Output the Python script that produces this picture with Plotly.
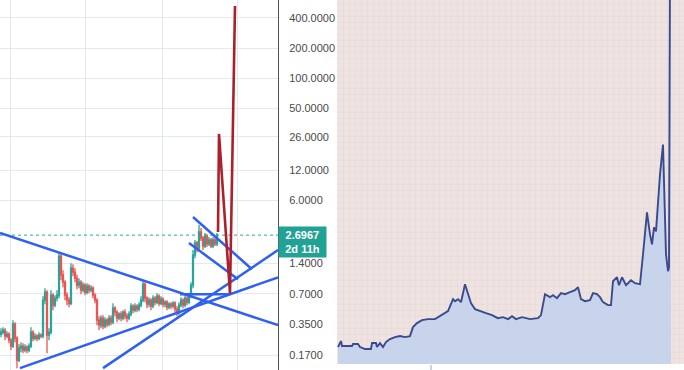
import math
import plotly.graph_objects as go

# ---------------- Left panel: candles (log price) ----------------
candle_idx = list(range(109))
opens = [0.275,0.288,0.302,0.263,0.275,0.240,0.209,0.347,0.251,0.151,
         0.200,0.209,0.191,0.204,0.191,0.209,0.288,0.251,0.263,0.251,
         0.269,0.263,0.603,0.724,0.269,0.288,0.676,0.537,0.631,0.676,
         1.66,1.08,0.912,0.676,0.603,0.562,1.26,1.15,1.00,0.851,
         0.912,0.759,0.851,0.724,0.832,0.759,0.794,0.676,0.603,0.380,
         0.339,0.398,0.331,0.380,0.347,0.398,0.363,0.501,0.457,0.398,
         0.437,0.398,0.457,0.417,0.398,0.437,0.525,0.479,0.525,0.490,
         0.537,0.603,0.871,0.631,0.550,0.603,0.525,0.631,0.575,0.661,
         0.562,0.617,0.550,0.575,0.513,0.550,0.525,0.562,0.490,0.447,
         0.537,0.603,0.537,0.631,0.575,0.661,0.851,1.70,2.25,2.00,
         2.90,2.52,2.10,2.64,2.20,2.41,2.10,2.41,2.20]
closes = [0.288,0.302,0.263,0.275,0.240,0.209,0.347,0.251,0.151,0.200,
          0.209,0.191,0.204,0.191,0.209,0.288,0.251,0.263,0.251,0.269,
          0.263,0.603,0.724,0.269,0.288,0.676,0.537,0.631,0.676,1.66,
          1.08,0.912,0.676,0.603,0.562,1.26,1.15,1.00,0.851,0.912,
          0.759,0.851,0.724,0.832,0.759,0.794,0.676,0.603,0.380,0.339,
          0.398,0.331,0.380,0.347,0.398,0.363,0.501,0.457,0.398,0.437,
          0.398,0.457,0.417,0.398,0.437,0.525,0.479,0.525,0.490,0.537,
          0.603,0.871,0.631,0.550,0.603,0.525,0.631,0.575,0.661,0.562,
          0.617,0.550,0.575,0.513,0.550,0.525,0.562,0.490,0.447,0.537,
          0.603,0.537,0.631,0.575,0.661,0.851,1.70,2.25,2.00,2.90,
          2.52,2.10,2.64,2.20,2.41,2.10,2.41,2.20,2.6967]
highs = [0.316,0.324,0.316,0.295,0.288,0.251,0.380,0.363,0.263,0.219,
         0.229,0.224,0.219,0.214,0.224,0.324,0.302,0.282,0.275,0.288,
         0.282,0.661,0.794,0.759,0.316,0.759,0.708,0.676,0.759,1.82,
         1.74,1.20,0.955,0.724,0.646,1.41,1.38,1.26,1.08,1.00,
         0.955,0.912,0.891,0.891,0.871,0.851,0.832,0.708,0.631,0.417,
         0.427,0.427,0.407,0.398,0.427,0.427,0.562,0.525,0.479,0.457,
         0.468,0.479,0.490,0.447,0.468,0.562,0.550,0.562,0.550,0.575,
         0.661,0.955,0.912,0.661,0.646,0.631,0.676,0.661,0.708,0.692,
         0.661,0.646,0.603,0.603,0.575,0.575,0.589,0.589,0.525,0.575,
         0.646,0.631,0.676,0.661,0.708,0.912,1.91,2.41,2.35,3.40,
         3.18,2.64,2.83,2.76,2.58,2.52,2.58,2.52,2.83]
lows = [0.257,0.275,0.240,0.251,0.224,0.191,0.200,0.229,0.126,0.145,
        0.182,0.178,0.182,0.178,0.182,0.200,0.234,0.240,0.234,0.240,
        0.251,0.251,0.550,0.178,0.240,0.275,0.479,0.513,0.589,0.631,
        0.955,0.813,0.603,0.537,0.513,0.537,1.05,0.912,0.776,0.794,
        0.692,0.724,0.676,0.692,0.708,0.724,0.631,0.562,0.339,0.302,
        0.316,0.309,0.316,0.324,0.331,0.339,0.347,0.417,0.363,0.380,
        0.372,0.380,0.389,0.363,0.380,0.417,0.447,0.457,0.457,0.468,
        0.513,0.575,0.575,0.501,0.513,0.479,0.501,0.537,0.550,0.525,
        0.537,0.513,0.513,0.479,0.490,0.490,0.501,0.457,0.417,0.427,
        0.513,0.501,0.513,0.537,0.550,0.631,0.794,1.58,1.82,1.91,
        2.35,1.91,2.00,2.05,2.10,2.00,2.00,2.10,2.10]
assert len(opens) == len(closes) == len(highs) == len(lows) == len(candle_idx)

last_price = 2.6967
last_label = "2.6967<br>2d 11h"

# trendlines: (bar index, price) pairs
trend_desc_x = [-0.5, 138.5];  trend_desc_y = [2.83, 0.339]
trend_low_x = [9.5, 138.5];    trend_low_y = [0.126, 1.02]
trend_steep_x = [51, 138.5];   trend_steep_y = [0.126, 1.91]
chan_up_x = [96, 125.5];       chan_up_y = [4.09, 1.23]
chan_dn_x = [94, 118.5];       chan_dn_y = [2.25, 0.977]
hline_x = [89.5, 114.5];       hline_y = [0.692, 0.692]
proj_x = [108.5, 109, 114.5, 117]
proj_y = [2.90, 27.7, 0.708, 527]

price_ticks = [0.17, 0.35, 0.7, 1.4, 6, 12, 26, 50, 100, 200, 400]
price_tick_text = ["0.1700", "0.3500", "0.7000", "1.4000", "6.0000", "12.0000",
                   "26.0000", "50.0000", "100.0000", "200.0000", "400.0000"]
left_grid_x = [4.5, 42, 80.5, 118]

# ---------------- Right panel: area chart ----------------
area_t = [1,4,5,15,16,21,23,28,34,35,39,40,43,46,49,53,58,63,68,73,
          76,80,85,91,98,105,111,116,118,121,124,128,131,134,138,143,149,155,161,166,
          171,175,179,185,193,201,204,208,213,216,220,224,228,233,238,241,244,248,253,256,
          260,263,266,271,274,276,280,282,285,289,294,298,303,306,310,313,315,317,319,323,
          326,329,331,332,333,334]
area_v = [17,23,18,18,20,20,17,15,15,21,21,17,21,17,22,25,27,28,27,28,
          37,41,44,45,45,49,53,65,63,65,62,80,70,61,55,53,51,49,46,47,
          45,48,45,47,45,46,49,70,67,69,66,71,70,72,74,77,65,63,64,71,
          70,67,62,59,59,83,87,79,87,79,84,81,80,110,152,130,120,137,133,190,
          220,110,93,97,400,400]
assert len(area_t) == len(area_v)

W, H = 684, 370
BLUE = "#2f60f2"
fig = go.Figure()

fig.add_trace(go.Candlestick(
    x=candle_idx, open=opens, high=highs, low=lows, close=closes,
    increasing=dict(line=dict(color="#26a69a", width=1.3), fillcolor="#26a69a"),
    decreasing=dict(line=dict(color="#ef5350", width=1.3), fillcolor="#ef5350"),
    whiskerwidth=0, xaxis="x", yaxis="y", showlegend=False, hoverinfo="skip"))

fig.add_trace(go.Scatter(x=[-0.5, 138.5], y=[last_price, last_price], mode="lines",
                         line=dict(color="#26a69a", width=1, dash="dot"),
                         xaxis="x", yaxis="y", showlegend=False, hoverinfo="skip"))

for tx, ty in [(trend_desc_x, trend_desc_y), (trend_low_x, trend_low_y),
               (trend_steep_x, trend_steep_y), (chan_up_x, chan_up_y),
               (chan_dn_x, chan_dn_y), (hline_x, hline_y)]:
    fig.add_trace(go.Scatter(x=tx, y=ty, mode="lines", line=dict(color=BLUE, width=2.5),
                             xaxis="x", yaxis="y", showlegend=False, hoverinfo="skip"))

fig.add_trace(go.Scatter(x=proj_x, y=proj_y, mode="lines",
                         line=dict(color="#ad2029", width=2.6),
                         xaxis="x", yaxis="y", showlegend=False, hoverinfo="skip"))

fig.add_trace(go.Scatter(x=area_t, y=area_v, mode="lines", fill="tozeroy",
                         fillcolor="#c7d4ec", line=dict(color="#3b4a8e", width=1.9),
                         xaxis="x2", yaxis="y2", showlegend=False, hoverinfo="skip"))

left_right = 278 / W
fig.update_layout(
    width=W, height=H, margin=dict(l=0, r=0, t=0, b=0),
    paper_bgcolor="white", plot_bgcolor="white", showlegend=False,
    font=dict(family="Arial", size=11, color="#4a4a4a"),
    xaxis=dict(domain=[0, left_right], range=[-0.5, 138.5], showticklabels=False,
               tickvals=left_grid_x, showgrid=True, gridcolor="#e2e9f1", gridwidth=1,
               zeroline=False, rangeslider=dict(visible=False), ticks="", fixedrange=True),
    yaxis=dict(domain=[0, 1], type="log", range=[-0.918, 2.782], side="right",
               tickvals=price_ticks, ticktext=price_tick_text, showgrid=True,
               gridcolor="#e2e9f1", gridwidth=1, zeroline=False, showline=True,
               linecolor="#4f525c", linewidth=1, ticks="", ticklabelstandoff=8,
               tickfont=dict(family="Arial", size=11, color="#4a4a4a")),
    xaxis2=dict(domain=[337 / W, 1], range=[0, 347], anchor="y2",
                tickvals=[94], ticks="outside", ticklen=6, tickwidth=2,
                tickcolor="#c8d3ea", showticklabels=False, showgrid=False,
                zeroline=False, showline=False,
                minor=dict(dtick=6, showgrid=True, gridcolor="rgba(190,160,160,0.07)",
                           ticks="")),
    yaxis2=dict(domain=[6 / H, 1], range=[0, 365], anchor="x2", showticklabels=False,
                showgrid=False, zeroline=False, showline=False,
                minor=dict(dtick=6, showgrid=True, gridcolor="rgba(190,160,160,0.07)",
                           ticks="")),
    shapes=[dict(type="rect", xref="x2 domain", yref="y2 domain", x0=0, x1=1, y0=0, y1=1,
                 fillcolor="#eee3e0", line=dict(width=0), layer="below")],
    annotations=[dict(text="<b>" + last_label.replace("<br>", "</b><br><b>") + "</b>",
                      xref="paper", yref="y", x=left_right, y=math.log10(last_price),
                      xanchor="left", yanchor="top", yshift=9, showarrow=False,
                      align="center", width=41, height=24, borderpad=3,
                      bgcolor="#22a294", font=dict(family="Arial", size=11, color="white"))],
)

fig.write_html("out.html", config={"displayModeBar": False},
               post_script="document.body.style.margin='0';document.body.style.overflow='hidden';")
